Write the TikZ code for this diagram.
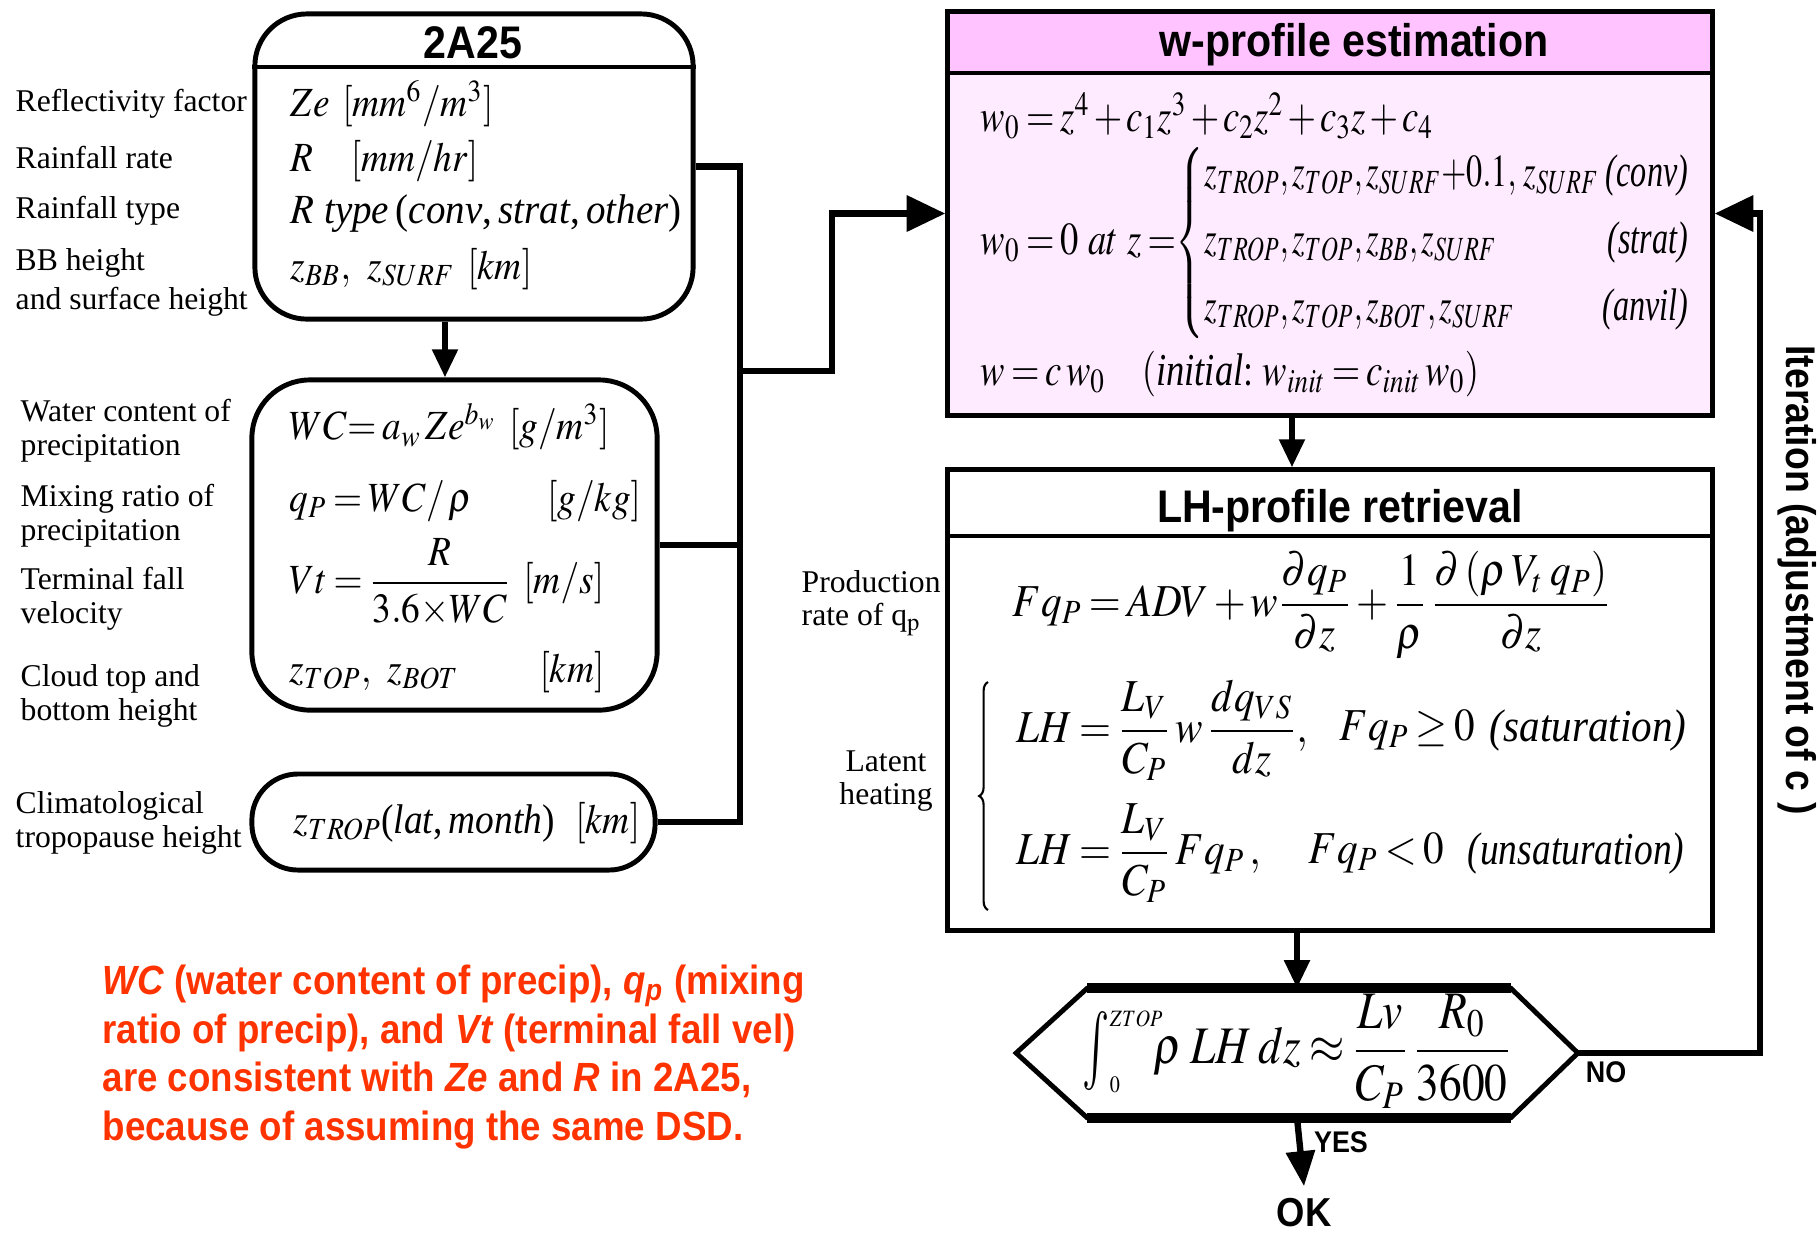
\documentclass[tikz,border=0pt]{standalone}
\usepackage{amsmath}
\usepackage{mathptmx}
\usepackage{graphicx}
\usepackage{fontspec}
\setmainfont{Liberation Serif}
\setsansfont{Liberation Sans}[FakeStretch=0.9]
\usetikzlibrary{arrows.meta,decorations.pathreplacing}
\definecolor{pinkhead}{RGB}{255,196,255}
\definecolor{pinkbody}{RGB}{255,235,255}
\definecolor{notered}{RGB}{255,51,0}
\newcommand{\nrw}[2][0.9]{\scalebox{#1}[1]{#2}}
\newcommand{\tightmath}{\thickmuskip=3mu plus 2mu\medmuskip=2mu plus 1mu}
\tikzset{
  rbox/.style={draw, line width=1.4pt, rounded corners=0.52cm, inner sep=0pt},
  sqbox/.style={draw, line width=1.4pt, inner sep=0pt},
  head/.style={font=\sffamily\bfseries\fontsize{13}{15}\selectfont},
  lbl/.style={anchor=west, align=left, inner sep=0pt, font=\fontsize{9}{9.6}\selectfont},
  eqL/.style={anchor=west, inner sep=0pt, font=\fontsize{11.8}{13}\selectfont\tightmath},
  eqR/.style={anchor=west, inner sep=0pt, font=\fontsize{13}{15}\selectfont\tightmath},
  conn/.style={line width=1.8pt},
  arr/.style={conn, -{Triangle[length=8pt,width=7pt]}},
  bigarr/.style={conn, -{Triangle[length=11pt,width=10pt]}},
}
\begin{document}
\begin{tikzpicture}[x=0.01cm, y=-0.01cm]
\useasboundingbox (0,0) rectangle (1818,1232);
% 2A25 input
\node[rbox, minimum width=4.38cm, minimum height=3.05cm] (a25) at (474,166.5) {};
\draw[line width=1.4pt] (a25.west |- 0,67) -- (a25.east |- 0,67);
\node[head] (a25t) at (473,43) {2A25};
\node[eqL] (ze) at (290,104) {\nrw{$Ze\;\;[mm^6/m^3]$}};
\node[eqL] (rr) at (290,161) {\nrw{$R\quad[mm/hr]$}};
\node[eqL] (rt) at (290,214) {\nrw[0.94]{$R$ \textit{type}\,(\textit{conv},\,\textit{strat},\,\textit{other})}};
\node[eqL] (zbb) at (290,269) {\nrw{$z_{BB},\;\; z_{SURF}\;\;[km]$}};
\node[lbl] (l1) at (15,104) {Reflectivity factor};
\node[lbl] (l2) at (15,157) {Rainfall rate};
\node[lbl] (l3) at (15,211) {Rainfall type};
\node[lbl] (l4) at (15,282) {BB height\\[1.5pt]and surface height};
% derived quantities
\node[rbox, rounded corners=0.58cm, minimum width=4.05cm, minimum height=3.3cm] (wc) at (454.5,545) {};
\node[eqL] (wceq) at (289,427) {\nrw{$WC{=}\; a_w\, Ze^{b_w}\;\;[g/m^3]$}};
\node[eqL] (qpeq) at (289,501) {\nrw{$q_P = WC/\,\rho \qquad [g/kg]$}};
\node[eqL] (vteq) at (289,582) {\nrw{$Vt = \dfrac{R}{3.6{\times}WC}\;\;[m/s]$}};
\node[eqL] (zteq) at (289,672) {\nrw{$z_{TOP},\;\; z_{BOT}\qquad\; [km]$}};
\node[lbl] (l5) at (20,431) {Water content of\\precipitation};
\node[lbl] (l6) at (20,516) {Mixing ratio of\\precipitation};
\node[lbl] (l7) at (20,599) {Terminal fall\\velocity};
\node[lbl] (l8) at (20,696) {Cloud top and\\bottom height};
% tropopause
\node[rbox, rounded corners=0.46cm, minimum width=4.03cm, minimum height=0.96cm] (trop) at (453.5,822) {};
\node[eqL] (treq) at (293,823) {\nrw{$z_{TROP}$(\textit{lat},\,\textit{month})\;\;$[km]$}};
\node[lbl] (l9) at (15,823) {Climatological\\tropopause height};
% w-profile
\node[sqbox, fill=pinkbody, minimum width=7.64cm, minimum height=4.03cm,
  path picture={\fill[pinkhead] (path picture bounding box.north west) rectangle ([yshift=-0.61cm]path picture bounding box.north east);}] (wprof) at (1330,213.5) {};
\draw[line width=1.4pt] (wprof.west |- 0,73) -- (wprof.east |- 0,73);
\node[head] (wproft) at (1354,45) {w-profile estimation};
\node[eqR] (w0a) at (980,116) {\nrw[0.8]{$w_0 = z^4 + c_1 z^3 + c_2 z^2 + c_3 z + c_4$}};
\node[eqR] (w0b) at (980,243) {\nrw[0.8]{$w_0 = 0\ at\ z =$\nrw[0.88]{$\left\{\begin{array}{@{}l@{\,}r@{}}
  z_{TROP}, z_{TOP}, z_{SURF}{+}0.1,\, z_{SURF} & \textit{(conv)}\\[4pt]
  z_{TROP}, z_{TOP}, z_{BB}, z_{SURF} & \textit{(strat)}\\[4pt]
  z_{TROP}, z_{TOP}, z_{BOT}, z_{SURF} & \textit{(anvil)}\end{array}\right.$}}};
\node[eqR] (weq) at (980,374) {\nrw[0.8]{$w = c\,w_0 \quad (\textit{initial}{:}\ w_{init} = c_{init}\, w_0)$}};
% LH-profile
\node[sqbox, minimum width=7.64cm, minimum height=4.6cm] (lh) at (1330,700) {};
\draw[line width=1.4pt] (lh.west |- 0,536) -- (lh.east |- 0,536);
\node[head] (lht) at (1340,511) {LH-profile retrieval};
\node[eqR] (fq) at (1012,605) {\nrw{$Fq_P = ADV + w\dfrac{\partial q_P}{\partial z} + \dfrac{1}{\rho}\,\dfrac{\partial\left(\rho\, V_t\; q_P\right)}{\partial z}$}};
\node[eqR] (lh1) at (1016,730) {\nrw{$LH = \dfrac{L_V}{C_P}\, w\,\dfrac{dq_{VS}}{dz},$}};
\node[eqR] (c1) at (1339,730) {\nrw{$Fq_P \ge 0$}};
\node[eqR, anchor=east] (s1) at (1687,730) {\nrw{\textit{(saturation)}}};
\node[eqR] (lh2) at (1016,853) {\nrw{$LH = \dfrac{L_V}{C_P}\, Fq_P\,,$}};
\node[eqR] (c2) at (1308,853) {\nrw{$Fq_P < 0$}};
\node[eqR, anchor=east] (s2) at (1685,853) {\nrw[0.82]{\textit{(unsaturation)}}};
\draw[line width=0.6pt, decorate, decoration={brace, amplitude=2.5pt}] (988,910) -- (988,682);
\node[lbl] (l10) at (801,603) {Production\\rate of q$_{\mathrm{p}}$};
\node[lbl, anchor=center, align=center] (l11) at (886,781) {Latent\\heating};
% check
\node[minimum width=5.6cm, minimum height=1.28cm, inner sep=0pt] (chk) at (1297,1053) {};
\draw[line width=1.4pt] (chk.west) -- ([xshift=0.71cm]chk.north west) -- ([xshift=-0.67cm]chk.north east)
  -- (chk.east) -- ([xshift=-0.67cm]chk.south east) -- ([xshift=0.71cm]chk.south west) -- cycle;
\draw[line width=2.8pt] ([xshift=0.71cm]chk.north west) -- ([xshift=-0.67cm]chk.north east)
  ([xshift=0.71cm]chk.south west) -- ([xshift=-0.67cm]chk.south east);
\node[font=\fontsize{15}{17}\selectfont\tightmath] (chkeq) at (1297,1051) {\nrw[0.86]{$\mathop{\vcenter{\hbox{\scalebox{1}[1.5]{$\int$}}}}\nolimits_{\scalebox{0.6}{$\scriptstyle 0$}}^{\scalebox{0.6}{$\scriptstyle ZTOP$}}\!\!\!\rho\; LH\; dz \approx \dfrac{Lv}{C_P}\,\dfrac{R_0}{3600}$}};
\node[font=\sffamily\bfseries\fontsize{11.5}{13}\selectfont] (ok) at (1304,1213) {OK};
\node[font=\sffamily\bfseries\fontsize{8.5}{10}\selectfont] (yes) at (1341,1142) {YES};
\node[font=\sffamily\bfseries\fontsize{8.5}{10}\selectfont] (no) at (1606,1072) {NO};
\node[font=\sffamily\bfseries\fontsize{11.8}{14}\selectfont, rotate=-90] (iter) at (1797,580) {Iteration (adjustment of c )};
% note
\node[anchor=west, align=left, inner sep=0pt, text=notered, font=\sffamily\bfseries\fontsize{11.6}{13.9}\selectfont] (note) at (102,1057)
  {\textit{WC} (water content of precip), \textit{q}\textsubscript{\textit{p}} (mixing\\
   ratio of precip), and \textit{Vt} (terminal fall vel)\\
   are consistent with \textit{Ze} and \textit{R} in 2A25,\\
   because of assuming the same DSD.};
% connectors
\coordinate (bus) at (740,371);
\coordinate (knee) at (832,371);
\coordinate (ret) at (1760,1053);
\draw[arr] ([xshift=-0.29cm]a25.south) -- ([xshift=-0.29cm]a25.south |- wc.north);
\draw[conn] (a25.east) -| (bus |- trop.east) -- (trop.east);
\draw[conn] (wc.east) -- (wc.east -| bus);
\draw[bigarr] (bus) -- (knee) |- (wprof.west);
\draw[arr] ([xshift=-0.38cm]wprof.south) -- ([xshift=-0.38cm]wprof.south |- lh.north);
\draw[arr] (lh.south -| chk.north) -- (chk.north);
\draw[bigarr] (chk.east) -- (ret) |- (wprof.east);
\draw[conn, -{Triangle[length=10pt,width=8pt]}] (chk.south) -- (ok.north);
\end{tikzpicture}
\end{document}
